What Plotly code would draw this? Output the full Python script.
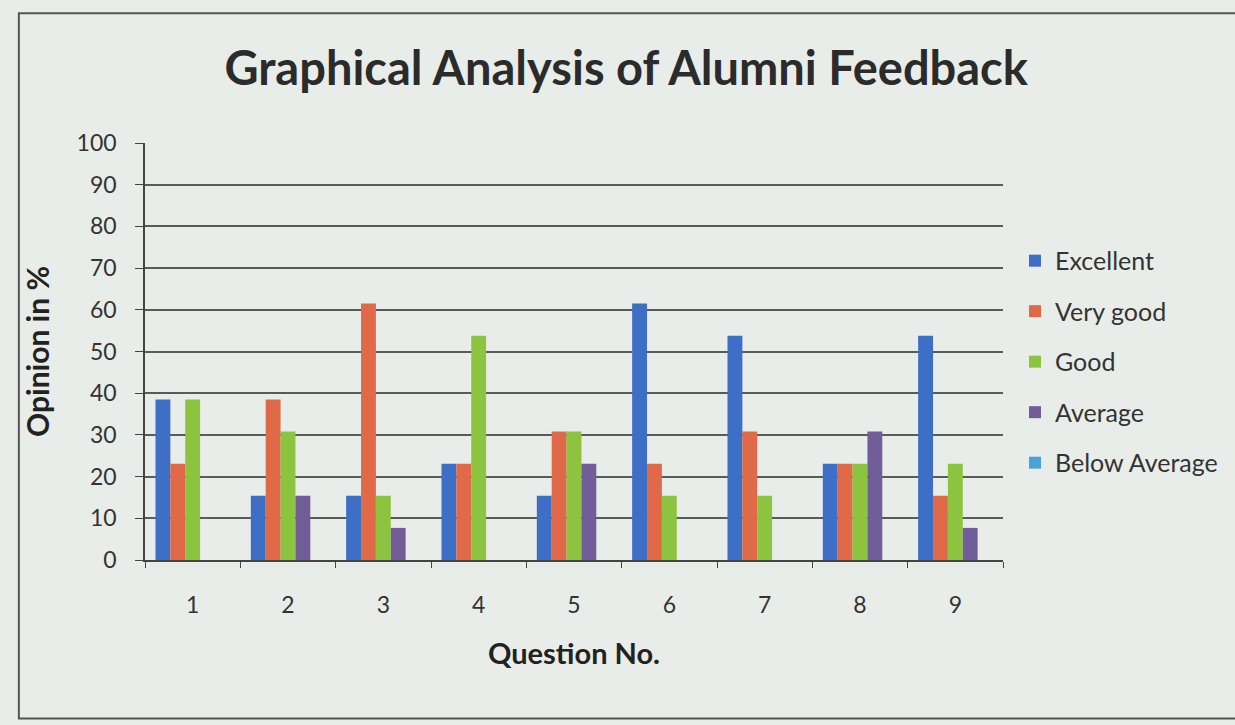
import plotly.graph_objects as go

questions = ["1", "2", "3", "4", "5", "6", "7", "8", "9"]
excellent = [38.5, 15.4, 15.4, 23.1, 15.4, 61.5, 53.8, 23.1, 53.8]
very_good = [23.1, 38.5, 61.5, 23.1, 30.8, 23.1, 30.8, 23.1, 15.4]
good = [38.5, 30.8, 15.4, 53.8, 30.8, 15.4, 15.4, 23.1, 23.1]
average = [0, 15.4, 7.7, 0, 23.1, 0, 0, 30.8, 7.7]
below_average = [0, 0, 0, 0, 0, 0, 0, 0, 0]

series = [
    ("Excellent", excellent, "#3d6fc6"),
    ("Very good", very_good, "#e06a48"),
    ("Good", good, "#8dc43f"),
    ("Average", average, "#715e98"),
    ("Below Average", below_average, "#4aa3d6"),
]

BG = "#e9ede9"
fig = go.Figure()
for i, (name, vals, col) in enumerate(series):
    fig.add_trace(go.Bar(x=questions, y=vals, name=name, marker_color=col,
                         marker_line_width=0, legendgroup=f"g{i}"))

font_family = "Lato, 'Open Sans', sans-serif"
fig.update_layout(
    width=1235, height=725,
    barmode="group", bargap=0.22, bargroupgap=0,
    paper_bgcolor=BG, plot_bgcolor=BG,
    margin=dict(l=145, r=218, t=143, b=165),
    title=dict(text="<b>Graphical Analysis of Alumni Feedback</b>", x=0.507, xanchor="center",
               y=0.906, yanchor="middle",
               font=dict(family=font_family, size=47, color="#2b2b2b")),
    font=dict(family=font_family, color="#2b2b2b"),
    legend=dict(x=1.014, xanchor="left", y=0.475, yanchor="middle",
                font=dict(size=25, color="#333"), tracegroupgap=15,
                bgcolor="rgba(0,0,0,0)", itemwidth=30),
    showlegend=True,
)
fig.update_yaxes(range=[0, 100], dtick=10, showgrid=True, gridcolor="#5a5a5a", gridwidth=1.5,
                 showline=True, linecolor="#444", linewidth=1.5, ticks="outside", ticklen=8,
                 tickcolor="#444", tickfont=dict(size=23, color="#333"), ticklabelstandoff=14,
                 title=dict(text="<b>Opinion in %</b>", font=dict(size=30, color="#222"), standoff=18),
                 zeroline=False)
fig.update_xaxes(showline=True, linecolor="#444", linewidth=1.5, ticks="outside", ticklen=6,
                 tickcolor="#444", tickson="boundaries", tickfont=dict(size=23, color="#333"),
                 ticklabelstandoff=24,
                 title=dict(text="<b>Question No.</b>", font=dict(size=29, color="#222"), standoff=26))
fig.add_shape(type="rect", xref="paper", yref="paper", x0=-0.147, x1=1.35, y0=-0.38, y1=1.311,
              line=dict(color="#555", width=2), fillcolor="rgba(0,0,0,0)")
fig.write_html("out.html", config={"displayModeBar": False},
               post_script="document.body.style.margin='0';document.body.style.background='%s';" % BG)
